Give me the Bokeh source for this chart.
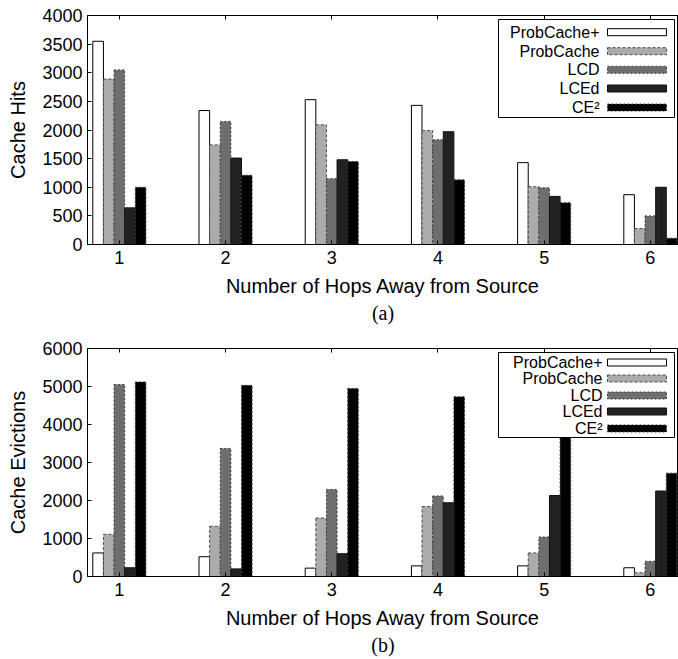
import numpy as np
from bokeh.plotting import figure
from bokeh.models import (ColumnDataSource, FixedTicker, LinearAxis, Range1d,
                          Label, BoxAnnotation, Title)
from bokeh.layouts import column
from bokeh.embed import file_html
from bokeh.resources import INLINE

# ---------------- data ----------------
hops = [1, 2, 3, 4, 5, 6]
hop_labels = ["1", "2", "3", "4", "5", "6"]
series_names = ["ProbCache+", "ProbCache", "LCD", "LCEd", "CE\u00b2"]

hits_probcache_plus = [3550, 2340, 2530, 2430, 1430, 870]
hits_probcache = [2890, 1740, 2090, 1990, 1010, 280]
hits_lcd = [3050, 2150, 1150, 1830, 990, 500]
hits_lced = [640, 1510, 1480, 1970, 840, 1000]
hits_ce2 = [1000, 1210, 1450, 1130, 730, 110]

evict_probcache_plus = [620, 520, 220, 280, 280, 230]
evict_probcache = [1110, 1320, 1540, 1840, 620, 100]
evict_lcd = [5050, 3370, 2290, 2120, 1040, 400]
evict_lced = [230, 200, 600, 1940, 2130, 2250]
evict_ce2 = [5120, 5030, 4950, 4730, 3840, 2720]

# ---------------- styles ----------------
styles = [
    dict(fill="#ffffff", line="#000000", dash="solid"),
    dict(fill="#ababab", line="#4a4a4a", dash="3 2"),
    dict(fill="#6e6e6e", line="#3a3a3a", dash="2 2"),
    dict(fill="#222222", line="#111111", dash="solid"),
    dict(fill="#000000", line="#3a3a3a", dash="2 2"),
]

FONT = "Liberation Sans"
FRAME_W = 591
X0, X1 = 0.7, 6.265


def make_panel(series_vals, ylabel, ymax, ystep, tag, border_top, frame_h,
               border_bottom, leg):
    p = figure(frame_width=FRAME_W, frame_height=frame_h,
               x_range=Range1d(X0, X1), y_range=Range1d(0, ymax),
               output_backend="svg", toolbar_location=None,
               min_border_left=87, min_border_right=0,
               min_border_top=border_top, min_border_bottom=border_bottom)
    p.grid.visible = False
    p.outline_line_color = "black"
    p.outline_line_alpha = 1
    p.outline_line_width = 1
    p.background_fill_color = "white"
    p.border_fill_color = "white"

    xb = p.xaxis[0]
    yl = p.yaxis[0]
    xb.ticker = FixedTicker(ticks=hops)
    xb.major_label_overrides = {h: l for h, l in zip(hops, hop_labels)}
    xb.axis_label = "Number of Hops Away from Source"
    yl.ticker = FixedTicker(ticks=list(range(0, ymax + 1, ystep)))
    yl.axis_label = ylabel
    for ax in (xb, yl):
        ax.major_tick_in = 4
        ax.major_tick_out = 0
        ax.minor_tick_line_color = None
        ax.axis_line_color = "black"
        ax.major_tick_line_color = "black"
        ax.major_label_text_font = FONT
        ax.major_label_text_font_size = "18px"
        ax.major_label_text_color = "black"
        ax.axis_label_text_font = FONT
        ax.axis_label_text_font_size = "20px"
        ax.axis_label_text_font_style = "normal"
        ax.axis_label_text_color = "black"
    xb.major_label_standoff = 6
    xb.axis_label_standoff = 8
    yl.major_label_standoff = 5
    yl.axis_label_standoff = 10

    # top frame ticks (inward, no labels) drawn as minor ticks
    top_ax = LinearAxis(ticker=FixedTicker(ticks=[], minor_ticks=hops),
                        minor_tick_in=4, minor_tick_out=0,
                        minor_tick_line_color="black",
                        major_tick_line_color=None,
                        axis_line_color="black")
    p.add_layout(top_ax, "above")

    for i, (vals, st) in enumerate(zip(series_vals, styles)):
        x = np.array(hops, dtype=float) + (i - 2) * 0.1
        src = ColumnDataSource(dict(x=x, top=vals))
        p.vbar(x="x", top="top", bottom=0, width=0.1, source=src,
               fill_color=st["fill"], line_color=st["line"],
               line_dash=st["dash"], line_width=1)

    # legend (label left, swatch right), positioned in frame pixels
    def px2x(px):
        return X0 + px / FRAME_W * (X1 - X0)

    def py2y(py):
        return ymax * (1 - py / frame_h)

    L, R, T, B = leg["box"]
    p.add_layout(BoxAnnotation(left=px2x(L), right=px2x(R), top=py2y(T),
                               bottom=py2y(B), fill_color="white",
                               fill_alpha=1, line_color="black",
                               line_alpha=1, line_width=1))
    for name, st, row in zip(series_names, styles, leg["rows"]):
        p.add_layout(Label(x=px2x(leg["label_x"]), y=py2y(row), text=name,
                           text_align="right", text_baseline="middle",
                           text_font=FONT, text_font_size="16px",
                           text_color="black"))
        p.add_layout(BoxAnnotation(left=px2x(leg["sw"][0]),
                                   right=px2x(leg["sw"][1]),
                                   top=py2y(row - 3.5), bottom=py2y(row + 3.5),
                                   fill_color=st["fill"], fill_alpha=1,
                                   line_color=st["line"], line_alpha=1,
                                   line_dash=st["dash"], line_width=1))

    t = Title(text=tag, align="center", text_font="Liberation Serif",
              text_font_size="20px", text_font_style="normal",
              text_color="black", standoff=0, offset=0)
    p.add_layout(t, "below")
    return p


pa = make_panel([hits_probcache_plus, hits_probcache, hits_lcd, hits_lced,
                 hits_ce2], "Cache Hits", 4000, 500, "(a)",
                border_top=15, frame_h=229, border_bottom=81,
                leg=dict(box=(411, 587, 4, 102),
                         rows=[16.7, 35.7, 54.3, 73, 92],
                         label_x=512, sw=(520, 579)))

pb = make_panel([evict_probcache_plus, evict_probcache, evict_lcd, evict_lced,
                 evict_ce2], "Cache Evictions", 6000, 1000, "(b)",
                border_top=23, frame_h=228, border_bottom=83,
                leg=dict(box=(411, 587, 4, 89),
                         rows=[14, 30, 47, 63, 80],
                         label_x=515, sw=(520, 579)))

layout = column(pa, pb, spacing=0)
open("out.html", "w").write(file_html(layout, INLINE))
